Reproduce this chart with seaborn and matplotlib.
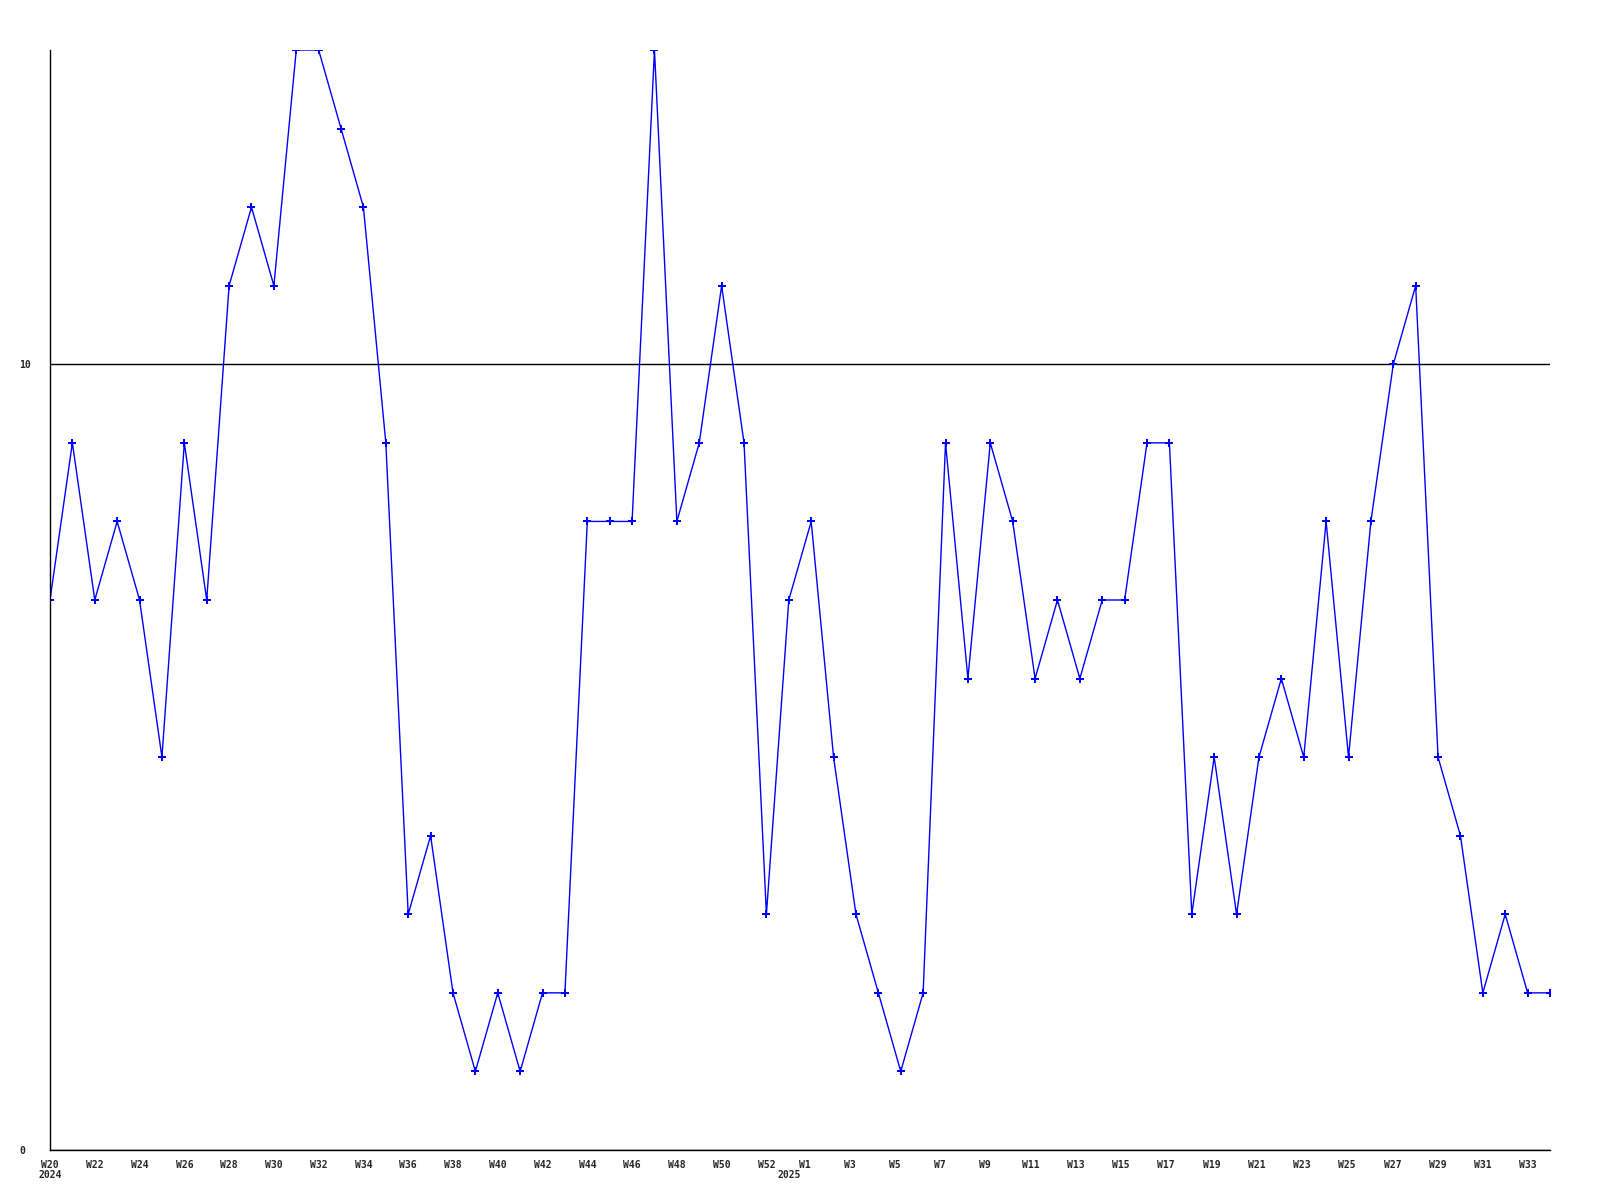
import seaborn as sns
import matplotlib.pyplot as plt
import pandas as pd

# weekly counts, W20 2024 .. W34 2025 (one extra point at the year change)
periods = [f"2024-W{w}" for w in range(20, 53)] + ["2025-W0"] + [f"2025-W{w}" for w in range(1, 35)]
counts = [7, 9, 7, 8, 7, 5, 9, 7, 11, 12, 11, 14, 14, 13, 12, 9, 3, 4, 2, 1,
          2, 1, 2, 2, 8, 8, 8, 14, 8, 9, 11, 9, 3,
          7,
          8, 5, 3, 2, 1, 2, 9, 6, 9, 8, 6, 7, 6, 7, 7, 9, 9, 3, 5, 3,
          5, 6, 5, 8, 5, 8, 10, 11, 5, 4, 2, 3, 2, 2]

# x-axis labels
labels_2024 = [f"W{w}" for w in range(20, 53, 2)]
labels_2025 = [f"W{w}" for w in range(1, 34, 2)]
years = ["2024", "2025"]

df = pd.DataFrame({"idx": range(len(counts)), "period": periods, "count": counts})

sns.set_style("white")
plt.rcParams['font.family'] = ['DejaVu Sans Mono', 'DejaVu Sans']

fig = plt.figure(figsize=(16, 12), dpi=100)
ax = fig.add_axes([50 / 1600, 50 / 1200, 1500 / 1600, 1100 / 1200])

sns.lineplot(data=df, x="idx", y="count", ax=ax, color="#0000ff", lw=1,
             marker="P", markersize=6, markeredgewidth=0)

ax.set_xlim(0, len(counts) - 1)
ax.set_ylim(0, 14)
ax.set_xlabel("")
ax.set_ylabel("")

# tick positions: 2024 labels sit on the points, 2025 labels drift slightly
pos_2024 = [i * 2 for i in range(len(labels_2024))]
pos_2025 = [33.7 + i * 2.02 for i in range(len(labels_2025))]
ax.set_xticks(pos_2024 + pos_2025)
ax.set_xticklabels(labels_2024 + labels_2025, fontsize=7, fontweight="bold")

ax.set_yticks([0, 10])
ax.set_yticklabels(["0", "10"], fontsize=7, fontweight="bold")
for lbl in ax.get_yticklabels():
    lbl.set_ha("left")

ax.tick_params(axis="x", length=0, pad=7)
ax.tick_params(axis="y", length=0, pad=22)

ax.grid(axis="y", color="black", lw=1)
ax.grid(axis="x", visible=False)

for s in ["top", "right"]:
    ax.spines[s].set_visible(False)
for s in ["left", "bottom"]:
    ax.spines[s].set_color("black")
    ax.spines[s].set_linewidth(1)

# year labels under the first week of each year
for x, yr in zip([0, 33], years):
    ax.text(x, -0.0227, yr, transform=ax.get_xaxis_transform(), ha="center",
            va="center", fontsize=7, fontweight="bold")

fig.savefig("out.png", dpi=100, facecolor="white")
